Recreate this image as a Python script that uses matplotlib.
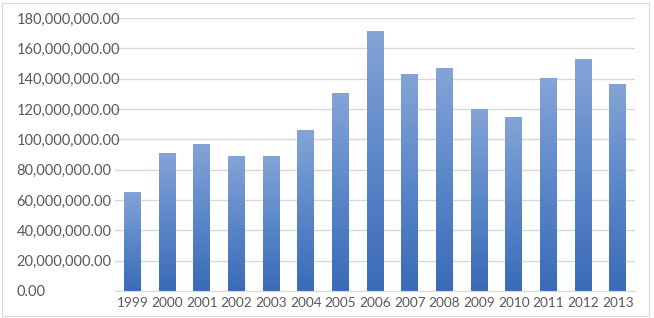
import numpy as np
import matplotlib.pyplot as plt
from matplotlib.colors import LinearSegmentedColormap
from matplotlib.ticker import FuncFormatter

years = ['1999', '2000', '2001', '2002', '2003', '2004', '2005', '2006',
         '2007', '2008', '2009', '2010', '2011', '2012', '2013']
values = [65.0e6, 91.0e6, 96.5e6, 88.5e6, 88.5e6, 106.0e6, 130.0e6, 171.0e6,
          143.0e6, 147.0e6, 119.5e6, 114.5e6, 140.5e6, 153.0e6, 136.0e6]

plt.rcParams['font.family'] = ['Lato', 'DejaVu Sans']

fig = plt.figure(figsize=(6.54, 3.18), dpi=100)
ax = fig.add_axes([0.176, 0.085, 0.795, 0.858])

# frame round the chart
fig.patches.append(plt.Rectangle((0.003, 0.006), 0.99, 0.985, transform=fig.transFigure,
                                 fill=False, edgecolor='#d9d9d9', linewidth=0.8))

grad = LinearSegmentedColormap.from_list('bar', ['#3a6bb7', '#5b87c9', '#84a4d7'])
x = np.arange(len(years))
bw = 0.48
bars = ax.bar(x, values, width=bw, color='none', zorder=2)
g = np.linspace(0, 1, 256).reshape(-1, 1)
for b in bars:
    x0, y0 = b.get_x(), b.get_y()
    w, h = b.get_width(), b.get_height()
    ax.imshow(g, cmap=grad, origin='lower', aspect='auto',
              extent=(x0, x0 + w, y0, y0 + h), zorder=2)

ax.set_xlim(-0.5, len(years) - 0.5)
ax.set_ylim(0, 180e6)
ax.set_yticks(np.arange(0, 180e6 + 1, 20e6))
ax.yaxis.set_major_formatter(FuncFormatter(lambda v, p: '{:,.2f}'.format(v)))
ax.set_xticks(x)
ax.set_xticklabels(years)

ax.grid(axis='y', color='#d9d9d9', linewidth=1.0, zorder=0)
ax.set_axisbelow(True)
for s in ['top', 'right', 'left']:
    ax.spines[s].set_visible(False)
ax.spines['bottom'].set_color('#d9d9d9')
ax.tick_params(axis='both', length=0, colors='#595959')
ax.tick_params(axis='y', pad=71, labelsize=10.5)
ax.tick_params(axis='x', pad=4, labelsize=9.8)
for lab in ax.get_yticklabels():
    lab.set_horizontalalignment('left')

fig.savefig('out.png', dpi=100)
